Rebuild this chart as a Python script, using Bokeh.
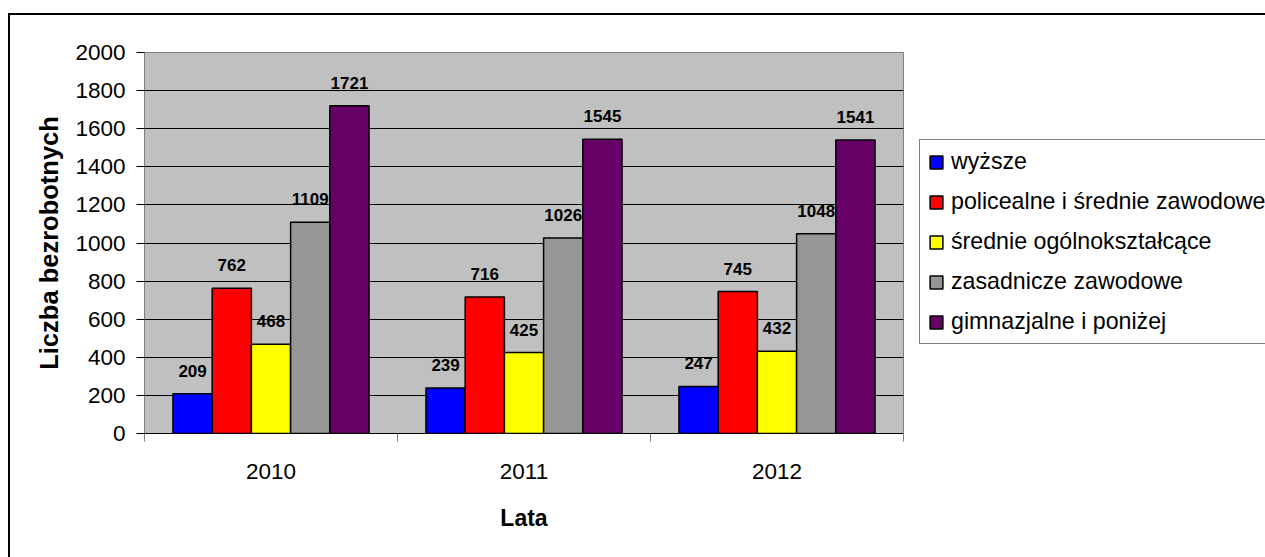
from bokeh.plotting import figure
from bokeh.models import ColumnDataSource, Legend, LegendItem, FixedTicker, Range1d
from bokeh.transform import dodge
from bokeh.core.properties import value
from bokeh.embed import file_html
from bokeh.resources import INLINE

years = ["2010", "2011", "2012"]
series_names = [
    "wyższe",
    "policealne i średnie zawodowe",
    "średnie ogólnokształcące",
    "zasadnicze zawodowe",
    "gimnazjalne i poniżej",
]
wyzsze = [209, 239, 247]
policealne = [762, 716, 745]
srednie = [468, 425, 432]
zasadnicze = [1109, 1026, 1048]
gimnazjalne = [1721, 1545, 1541]
colors = ["#0000FF", "#FF0000", "#FFFF00", "#969696", "#660066"]
y_ticks = list(range(0, 2001, 200))

series = [wyzsze, policealne, srednie, zasadnicze, gimnazjalne]
FONT = "Liberation Sans"

xi = list(range(len(years)))
data = {"xi": xi}
for j, s in enumerate(series):
    data[f"s{j}"] = s
    data[f"t{j}"] = [str(v) for v in s]
src = ColumnDataSource(data)

p = figure(
    frame_width=759, frame_height=381,
    min_border_left=134, min_border_top=37, min_border_right=362, min_border_bottom=124,
    x_range=Range1d(-0.5, len(years) - 0.5), y_range=Range1d(0, 2000),
    output_backend="svg", toolbar_location=None,
    background_fill_color="#C0C0C0", border_fill_color="white",
    outline_line_color="#808080", outline_line_width=1,
    styles={"border-top": "2px solid black", "border-left": "2px solid black",
            "margin-top": "13px", "margin-left": "8px"},
)

bw = 0.155
items = []
for j, s in enumerate(series):
    off = (j - 2) * bw
    r = p.vbar(x=dodge("xi", off, range=p.x_range), top=f"s{j}", width=bw, bottom=0,
               source=src, fill_color=colors[j], line_color="black", line_width=1.5)
    p.text(x=dodge("xi", off, range=p.x_range), y=f"s{j}", text=f"t{j}", source=src,
           text_align="center", text_baseline="middle", y_offset=-23,
           text_font=value(FONT), text_font_style="bold", text_font_size="17px",
           text_color="black")
    items.append(LegendItem(label=series_names[j], renderers=[r]))

# y axis
p.yaxis.ticker = FixedTicker(ticks=y_ticks)
p.yaxis.axis_label = "Liczba bezrobotnych"
p.yaxis.axis_label_text_font = FONT
p.yaxis.axis_label_text_font_style = "bold"
p.yaxis.axis_label_text_font_size = "25.5px"
p.yaxis.axis_label_text_color = "black"
p.yaxis.axis_label_standoff = 9
p.yaxis.major_label_text_font = FONT
p.yaxis.major_label_text_font_size = "22.5px"
p.yaxis.major_label_text_color = "black"
p.yaxis.major_label_standoff = 11
p.yaxis.major_tick_out = 8
p.yaxis.major_tick_in = 0
p.yaxis.major_tick_line_color = "black"
p.yaxis.minor_tick_line_color = None
p.yaxis.axis_line_color = "#808080"

# x axis
p.xaxis.ticker = FixedTicker(ticks=xi, minor_ticks=[i - 0.5 for i in range(len(years) + 1)])
p.xaxis.major_label_overrides = {i: y for i, y in zip(xi, years)}
p.xaxis.axis_label = "Lata"
p.xaxis.axis_label_text_font = FONT
p.xaxis.axis_label_text_font_style = "bold"
p.xaxis.axis_label_text_font_size = "23px"
p.xaxis.axis_label_text_color = "black"
p.xaxis.axis_label_standoff = 23
p.xaxis.major_label_text_font = FONT
p.xaxis.major_label_text_font_size = "22.5px"
p.xaxis.major_label_text_color = "black"
p.xaxis.major_label_standoff = 22
p.xaxis.major_tick_line_color = None
p.xaxis.major_tick_out = 8
p.xaxis.major_tick_in = 0
p.xaxis.minor_tick_out = 8
p.xaxis.minor_tick_in = 0
p.xaxis.minor_tick_line_color = "#808080"
p.xaxis.axis_line_color = "black"

p.xgrid.grid_line_color = None
p.ygrid.grid_line_color = "black"
p.ygrid.grid_line_width = 1

legend = Legend(items=items, location=(16, 89),
                border_line_color="black", border_line_width=1,
                background_fill_color="white", background_fill_alpha=1,
                padding=8, spacing=13, margin=0,
                glyph_width=16, glyph_height=16, label_standoff=7,
                label_text_font=FONT, label_text_font_size="23.2px",
                label_text_color="black", label_height=26)
p.add_layout(legend, "right")

open("out.html", "w").write(file_html(p, INLINE))
